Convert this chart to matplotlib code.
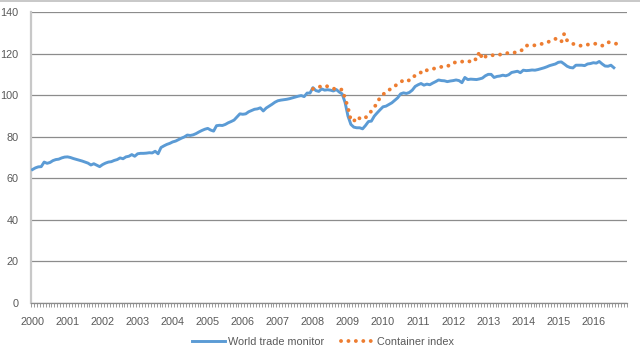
import numpy as np
import matplotlib
matplotlib.use("Agg")
import matplotlib.pyplot as plt
from matplotlib.lines import Line2D

# monthly values, Jan 2000 onwards
world_trade = [
    64.2, 65.0, 65.5, 65.6, 67.8, 67.2, 67.6, 68.5, 69.0, 69.2, 69.8, 70.2,          # 2000
    70.3, 70.0, 69.5, 69.1, 68.7, 68.3, 67.8, 67.3, 66.4, 67.0, 66.3, 65.6,          # 2001
    66.6, 67.3, 67.8, 68.0, 68.6, 69.0, 69.8, 69.4, 70.3, 70.6, 71.4, 70.6,          # 2002
    71.8, 72.0, 72.0, 72.1, 72.3, 72.2, 73.0, 71.8, 74.8, 75.6, 76.3, 76.8,          # 2003
    77.5, 77.9, 78.6, 79.3, 79.9, 80.8, 80.6, 80.9, 81.5, 82.3, 83.0, 83.6,          # 2004
    84.0, 83.2, 82.7, 85.3, 85.5, 85.4, 85.9, 86.7, 87.3, 88.0, 89.5, 91.0,          # 2005
    90.8, 91.0, 92.0, 92.6, 93.2, 93.4, 93.9, 92.4, 93.8, 94.7, 95.6, 96.6,          # 2006
    97.3, 97.6, 97.8, 98.0, 98.3, 98.7, 99.1, 99.5, 99.8, 99.3, 101.0, 101.0,        # 2007
    103.6, 102.2, 101.8, 103.0, 102.4, 102.6, 102.4, 102.0, 102.7, 101.5, 100.6, 96.5,  # 2008
    89.9, 85.9, 84.6, 84.3, 84.3, 83.8, 85.4, 87.3, 87.5, 89.9, 91.5, 93.0,          # 2009
    94.4, 94.7, 95.5, 96.3, 97.5, 98.7, 100.6, 101.1, 100.8, 101.3, 102.4, 104.2,    # 2010
    105.0, 105.6, 104.8, 105.3, 105.0, 105.8, 106.5, 107.3, 107.0, 106.9, 106.5, 106.8,  # 2011
    107.0, 107.3, 107.0, 106.0, 108.5, 107.5, 107.7, 107.6, 107.5, 107.8, 108.2, 109.3,  # 2012
    110.0, 110.0, 108.5, 109.0, 109.2, 109.6, 109.3, 109.8, 110.9, 111.2, 111.5, 110.8,  # 2013
    112.0, 111.8, 111.9, 112.1, 112.0, 112.3, 112.7, 113.1, 113.6, 114.2, 114.6, 115.0,  # 2014
    115.8, 116.0, 115.0, 113.9, 113.3, 113.1, 114.4, 114.4, 114.4, 114.2, 115.0, 115.2,  # 2015
    115.6, 115.4, 116.2, 115.0, 114.0, 113.9, 114.4, 113.2,                              # 2016
]

# container index starts Jan 2008 (month 96)
container_start = 96
container = [
    103.0, 103.6, 103.8, 104.5, 104.6, 104.2, 103.8, 103.2, 102.7, 102.6, 102.7, 98.5,   # 2008
    94.0, 87.8, 87.4, 89.6, 88.8, 88.3, 89.2, 90.4, 92.4, 94.2, 96.2, 99.0,             # 2009
    100.2, 101.8, 102.5, 103.2, 104.3, 105.4, 106.2, 107.3, 107.5, 107.0, 108.5, 109.4, # 2010
    109.8, 111.0, 110.6, 112.0, 112.3, 112.6, 113.0, 113.4, 113.6, 113.6, 113.8, 114.8, # 2011
    115.7, 115.7, 115.7, 116.1, 116.5, 116.3, 116.2, 117.6, 117.0, 121.0, 117.3, 118.5, # 2012
    119.2, 119.2, 119.2, 119.3, 119.5, 119.8, 120.2, 120.2, 120.4, 120.5, 120.6, 121.3, # 2013
    122.0, 123.8, 124.0, 123.8, 124.0, 124.3, 124.6, 124.8, 125.2, 125.9, 126.5, 127.1, # 2014
    126.0, 125.6, 129.5, 126.3, 125.5, 124.7, 124.2, 123.8, 123.8, 124.0, 124.3, 124.5, # 2015
    124.6, 124.8, 124.3, 123.8, 124.6, 125.5, 125.2, 124.9, 124.7,                      # 2016
]

years = [str(y) for y in range(2000, 2017)]
n_months = 204

blue = "#5B9BD5"
orange = "#ED7D31"
txt = "#595959"

plt.rcParams["font.family"] = ["Liberation Sans", "DejaVu Sans"]

fig = plt.figure(figsize=(6.4, 3.51), dpi=100)
ax = fig.add_axes([31 / 640, 1 - 303 / 351, 596 / 640, 291 / 351])

x_wtm = np.arange(len(world_trade))
x_cont = np.arange(container_start, container_start + len(container))

ax.plot(x_wtm, world_trade, color=blue, lw=2.1, solid_joinstyle="round", zorder=3)
ax.plot(x_cont, container, color=orange, lw=2.8,
        linestyle=(0, (0.01, 1.9)), dash_capstyle="round", zorder=3)

ax.set_xlim(-0.5, n_months - 0.5)
ax.set_ylim(0, 140)
ax.set_yticks(range(0, 141, 20))
ax.yaxis.grid(True, color="#8c8c8c", lw=0.9)
ax.set_axisbelow(True)

ax.set_xticks(np.arange(0, 12 * len(years), 12))
ax.set_xticklabels(years)
ax.set_xticks(np.arange(-0.5, n_months, 1), minor=True)
ax.tick_params(axis="x", which="major", length=0, pad=10, labelsize=7.8, colors=txt)
ax.tick_params(axis="x", which="minor", length=3, width=0.6, color="#8c8c8c")
ax.tick_params(axis="y", length=0, pad=9, labelsize=7.8, colors=txt)

for s in ["top", "right"]:
    ax.spines[s].set_visible(False)
ax.spines["left"].set_color("#c8c8c8")
ax.spines["left"].set_linewidth(1.6)
ax.spines["bottom"].set_color("#8c8c8c")
ax.spines["bottom"].set_linewidth(0.9)

handles = [
    Line2D([], [], color=blue, lw=2.1),
    Line2D([], [], color=orange, lw=2.8, linestyle=(0, (0.01, 1.9)), dash_capstyle="round"),
]
fig.legend(handles, ["World trade monitor", "Container index"], loc="center",
           bbox_to_anchor=(0.505, 1 - 342 / 351), ncol=2, frameon=False,
           fontsize=7.8, labelcolor=txt, handlelength=3.0, handletextpad=0.3,
           columnspacing=1.6)

# thin frame line along the top edge
fig.add_artist(Line2D([0, 1], [0.998, 0.998], transform=fig.transFigure,
                      color="#bfbfbf", lw=1.2))

fig.savefig("out.png", dpi=100)
